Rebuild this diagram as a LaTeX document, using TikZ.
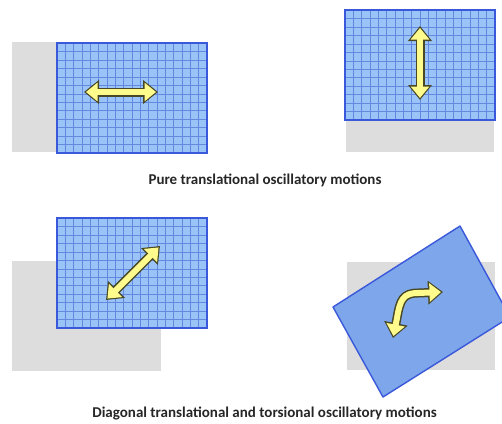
\documentclass[tikz,border=0pt]{standalone}
\usepackage{fontspec}
\setmainfont{Carlito}
\usetikzlibrary{arrows.meta}
\definecolor{shadegray}{RGB}{221,221,221}
\definecolor{panelblue}{RGB}{154,196,248}
\definecolor{gridblue}{RGB}{98,136,224}
\definecolor{edgeblue}{RGB}{58,88,218}
\definecolor{tiltblue}{RGB}{126,166,234}
\definecolor{arrowfill}{RGB}{255,250,140}
\definecolor{arrowedge}{RGB}{72,72,36}
\newcommand\gridpanel[2]{%
  \fill[panelblue] (#1,#2) rectangle ++(150,110);
  \foreach \i in {1,...,17} {\draw[gridline] ({#1+\i*150/18},#2) -- ++(0,110);}
  \foreach \j in {1,...,12} {\draw[gridline] (#1,{#2+\j*110/13}) -- ++(150,0);}
  \draw[paneledge] (#1,#2) rectangle ++(150,110);
}
\newcommand\dblarrow[1]{%
  \draw[arrowout] #1;
  \draw[arrowin] #1;
}
\begin{document}
\begin{tikzpicture}[x=1pt,y=-1pt,
  shadebox/.style={fill=shadegray},
  gridline/.style={draw=gridblue,line width=0.5pt},
  paneledge/.style={draw=edgeblue,line width=1.6pt},
  arrowout/.style={draw=arrowedge,line width=9pt,line join=round,
     {Triangle[length=15pt,width=23pt,fill=arrowedge]}-{Triangle[length=15pt,width=23pt,fill=arrowedge]}},
  arrowin/.style={draw=arrowfill,line width=6pt,line join=round,
     shorten <=2pt, shorten >=2pt,
     {Triangle[length=11.5pt,width=18pt,fill=arrowfill]}-{Triangle[length=11.5pt,width=18pt,fill=arrowfill]}},
  caption/.style={font=\fontsize{15}{17}\selectfont\bfseries,text=black!85,inner sep=0pt}]
\useasboundingbox (0,0) rectangle (502,423);
% panel 1
\fill[shadebox] (12,42) rectangle (162,152);
\gridpanel{57}{43}
\dblarrow{(84,92) -- (158,92)}
% panel 2
\fill[shadebox] (346,42) rectangle (494,152);
\gridpanel{345}{10}
\dblarrow{(420,26) -- (420,100)}
% caption 1
\node[caption] (cap1) at (265,180) {Pure translational oscillatory motions};
% panel 3
\fill[shadebox] (12,261) rectangle (161,371);
\gridpanel{57}{218}
\dblarrow{(106,300) -- (160,246)}
% panel 4
\fill[shadebox] (347,262) rectangle (495,370);
\fill[tiltblue] (460,226) -- (510,317) -- (383,397) -- (333,307) -- cycle;
\draw[draw=edgeblue,line width=1.4pt,line join=round] (460,226) -- (510,317) -- (383,397) -- (333,307) -- cycle;
\dblarrow{(393,338) -- (397,318) .. controls (400,300) and (403,293) .. (418,293) -- (443,292)}
% caption 2
\node[caption] (cap2) at (264.5,413) {Diagonal translational and torsional oscillatory motions};
\end{tikzpicture}
\end{document}
